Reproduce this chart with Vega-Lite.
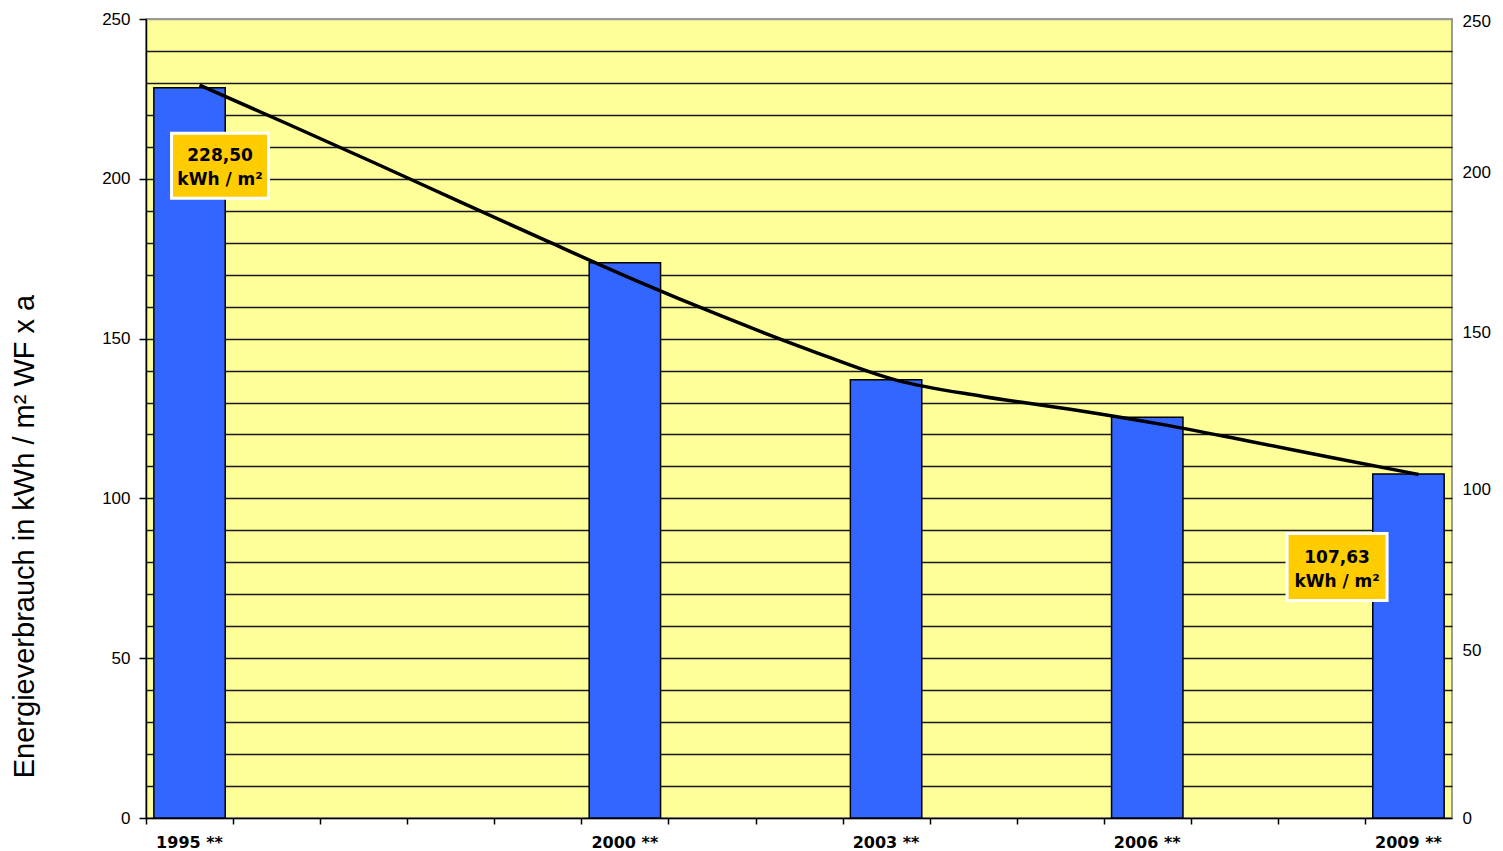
{
  "$schema": "https://vega.github.io/schema/vega-lite/v6.json",
  "autosize": "none",
  "width": 1306,
  "height": 799,
  "padding": {"left": 146, "top": 19, "right": 51, "bottom": 33},
  "background": "white",
  "config": {
    "view": {"fill": "#FFFF99", "stroke": "#9A9A9A", "strokeWidth": 2}
  },
  "datasets": {
    "bars": [
      {"year": 1995, "value": 228.5},
      {"year": 2000, "value": 173.7},
      {"year": 2003, "value": 137.1},
      {"year": 2006, "value": 125.4},
      {"year": 2009, "value": 107.63}
    ],
    "trend": [
      {"year": 1995, "value": 229.3},
      {"year": 1996, "value": 217.3},
      {"year": 1997, "value": 205.1},
      {"year": 1998, "value": 192.7},
      {"year": 1999, "value": 180.4},
      {"year": 2000, "value": 168.3},
      {"year": 2001, "value": 157.0},
      {"year": 2002, "value": 146.5},
      {"year": 2003, "value": 137.0},
      {"year": 2004, "value": 131.9},
      {"year": 2005, "value": 127.9},
      {"year": 2006, "value": 123.4},
      {"year": 2007, "value": 118.2},
      {"year": 2008, "value": 112.8},
      {"year": 2009, "value": 107.5}
    ],
    "label1": [{"year": 1995, "value": 228.5, "label": ["228,50", "kWh / m²"]}],
    "label2": [{"year": 2009, "value": 107.63, "label": ["107,63", "kWh / m²"]}]
  },
  "encoding": {
    "x": {
      "field": "year",
      "type": "ordinal",
      "scale": {
        "domain": [1995, 1996, 1997, 1998, 1999, 2000, 2001, 2002, 2003, 2004, 2005, 2006, 2007, 2008, 2009],
        "paddingInner": 0.18,
        "paddingOuter": 0.09
      },
      "axis": null
    }
  },
  "layer": [
    {
      "data": {"name": "bars"},
      "mark": {"type": "bar", "fill": "#3366FF", "stroke": "black", "strokeWidth": 1.5},
      "encoding": {
        "x": {
          "field": "year",
          "type": "ordinal",
          "axis": {
            "orient": "bottom",
            "title": null,
            "labelAngle": 0,
            "ticks": false,
            "labelExpr": "indexof([1995, 2000, 2003, 2006, 2009], datum.value) >= 0 ? datum.value + ' **' : ''",
            "labelFont": "DejaVu Sans",
            "labelFontWeight": "bold",
            "labelFontSize": 16,
            "labelColor": "black",
            "labelPadding": 16,
            "domainColor": "black",
            "domainWidth": 1.5,
            "grid": false
          }
        },
        "y": {
          "field": "value",
          "type": "quantitative",
          "scale": {"domain": [0, 250], "nice": false, "zero": true},
          "axis": {
            "title": "Energieverbrauch in kWh / m² WF x a",
            "values": [0, 50, 100, 150, 200, 250],
            "grid": false,
            "labelFont": "Liberation Sans",
            "labelFontSize": 17,
            "labelColor": "black",
            "labelPadding": 9,
            "tickColor": "black",
            "tickSize": 7,
            "tickWidth": 1.5,
            "domainColor": "black",
            "domainWidth": 1.5,
            "titleFont": "Liberation Sans",
            "titleFontWeight": "normal",
            "titleFontSize": 29,
            "titleColor": "black",
            "titleAngle": -90,
            "titleX": -122,
            "titleY": 517,
            "titleAlign": "center",
            "titleBaseline": "middle"
          }
        }
      }
    },
    {
      "data": {"name": "trend"},
      "mark": {"type": "line", "color": "black", "strokeWidth": 3.5, "interpolate": "monotone", "xOffset": 10},
      "encoding": {
        "x": {
          "field": "year",
          "type": "ordinal",
          "axis": {
            "orient": "bottom",
            "title": null,
            "labels": false,
            "domain": false,
            "grid": false,
            "bandPosition": 0,
            "tickOffset": -7.8,
            "tickColor": "black",
            "tickSize": 6,
            "tickWidth": 1.5
          }
        },
        "y": {
          "field": "value",
          "type": "quantitative",
          "axis": {
            "orient": "right",
            "title": null,
            "values": [0, 10, 20, 30, 40, 50, 60, 70, 80, 90, 100, 110, 120, 130, 140, 150, 160, 170, 180, 190, 200, 210, 220, 230, 240, 250],
            "labelExpr": "datum.value % 50 == 0 ? datum.label : ''",
            "grid": true,
            "gridColor": {"condition": {"test": "datum.value == 250 || datum.value == 0", "value": "#9A9A9A"}, "value": "#1a1a1a"},
            "gridWidth": 1.4,
            "ticks": false,
            "domain": false,
            "labelFont": "Liberation Sans",
            "labelFontSize": 17,
            "labelColor": "black",
            "labelPadding": 10,
            "labelOffset": {
              "condition": [
                {"test": "datum.value == 50", "value": -8},
                {"test": "datum.value == 100", "value": -9},
                {"test": "datum.value == 150", "value": -6},
                {"test": "datum.value == 200", "value": -6},
                {"test": "datum.value == 250", "value": 2}
              ],
              "value": 0
            }
          }
        }
      }
    },
    {
      "data": {"name": "label1"},
      "mark": {"type": "point", "shape": "M-1,-0.67L1,-0.67L1,0.67L-1,0.67Z", "size": 9409, "filled": true, "fill": "#FFCC00", "stroke": "white", "strokeWidth": 3, "opacity": 1, "xOffset": 30.5, "yOffset": 78},
      "encoding": {"y": {"field": "value", "type": "quantitative", "axis": null}}
    },
    {
      "data": {"name": "label1"},
      "mark": {"type": "text", "font": "DejaVu Sans", "fontWeight": "bold", "fontSize": 17, "lineHeight": 24, "color": "black", "align": "center", "baseline": "middle", "xOffset": 30.5, "yOffset": 68},
      "encoding": {"y": {"field": "value", "type": "quantitative", "axis": null}, "text": {"field": "label"}}
    },
    {
      "data": {"name": "label2"},
      "mark": {"type": "point", "shape": "M-1,-0.67L1,-0.67L1,0.67L-1,0.67Z", "size": 10000, "filled": true, "fill": "#FFCC00", "stroke": "white", "strokeWidth": 3, "opacity": 1, "xOffset": -71.4, "yOffset": 93},
      "encoding": {"y": {"field": "value", "type": "quantitative", "axis": null}}
    },
    {
      "data": {"name": "label2"},
      "mark": {"type": "text", "font": "DejaVu Sans", "fontWeight": "bold", "fontSize": 17, "lineHeight": 24, "color": "black", "align": "center", "baseline": "middle", "xOffset": -71.4, "yOffset": 84},
      "encoding": {"y": {"field": "value", "type": "quantitative", "axis": null}, "text": {"field": "label"}}
    }
  ],
  "resolve": {"axis": {"y": "independent", "x": "independent"}}
}
